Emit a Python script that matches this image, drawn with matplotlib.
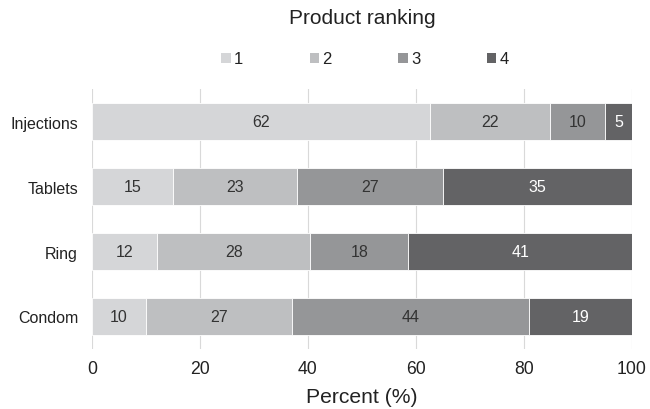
import matplotlib
matplotlib.use("Agg")
import matplotlib.pyplot as plt
import numpy as np
from matplotlib.patches import Patch

plt.rcParams['font.family'] = ['Liberation Sans', 'DejaVu Sans']

categories = ["Injections", "Tablets", "Ring", "Condom"]
rank_labels = ["1", "2", "3", "4"]
rank1 = [62, 15, 12, 10]
rank2 = [22, 23, 28, 27]
rank3 = [10, 27, 18, 44]
rank4 = [5, 35, 41, 19]
colors = ["#d5d6d8", "#bebfc1", "#959698", "#636365"]
text_colors = ["#333333", "#333333", "#333333", "#ffffff"]

series = [rank1, rank2, rank3, rank4]
vals = np.array(series, dtype=float)
totals = vals.sum(axis=0)
pct = vals / totals * 100

fig = plt.figure(figsize=(6.5, 4.1), dpi=100)
ax = fig.add_axes([92/650, 60/410, 540/650, 260/410])

y = np.arange(len(categories))
left = np.zeros(len(categories))
for i in range(4):
    ax.barh(y, pct[i], left=left, height=0.57, color=colors[i],
            edgecolor="white", linewidth=0.6, zorder=2)
    for j in range(len(categories)):
        ax.text(left[j] + pct[i][j] / 2, y[j], str(series[i][j]),
                ha="center", va="center", fontsize=11.5, color=text_colors[i], zorder=3)
    left += pct[i]

ax.set_xlim(0, 100)
ax.set_ylim(3.5, -0.5)
ax.set_yticks(y)
ax.set_yticklabels(categories, fontsize=11.5, color="#222222")
ax.set_xticks([0, 20, 40, 60, 80, 100])
ax.tick_params(axis="x", labelsize=12.7, colors="#222222", length=0, pad=8)
ax.tick_params(axis="y", length=0, pad=10)
for s in ax.spines.values():
    s.set_visible(False)
ax.grid(axis="x", color="#d9d9d9", linewidth=0.8, zorder=0)
ax.set_axisbelow(True)
ax.set_xlabel("Percent (%)", fontsize=15.2, color="#222222", labelpad=7)

fig.text(362/650, 1 - 19/410, "Product ranking", ha="center", va="center",
         fontsize=15, color="#222222")

handles = [Patch(facecolor=c, edgecolor="none") for c in colors]
fig.legend(handles, rank_labels, loc="center", bbox_to_anchor=(365/650, 1 - 60/410),
           ncol=4, frameon=False, fontsize=12, handlelength=0.55, handleheight=0.55,
           handletextpad=0.2, columnspacing=4.0, labelcolor="#222222")

fig.savefig("out.png", dpi=100)
